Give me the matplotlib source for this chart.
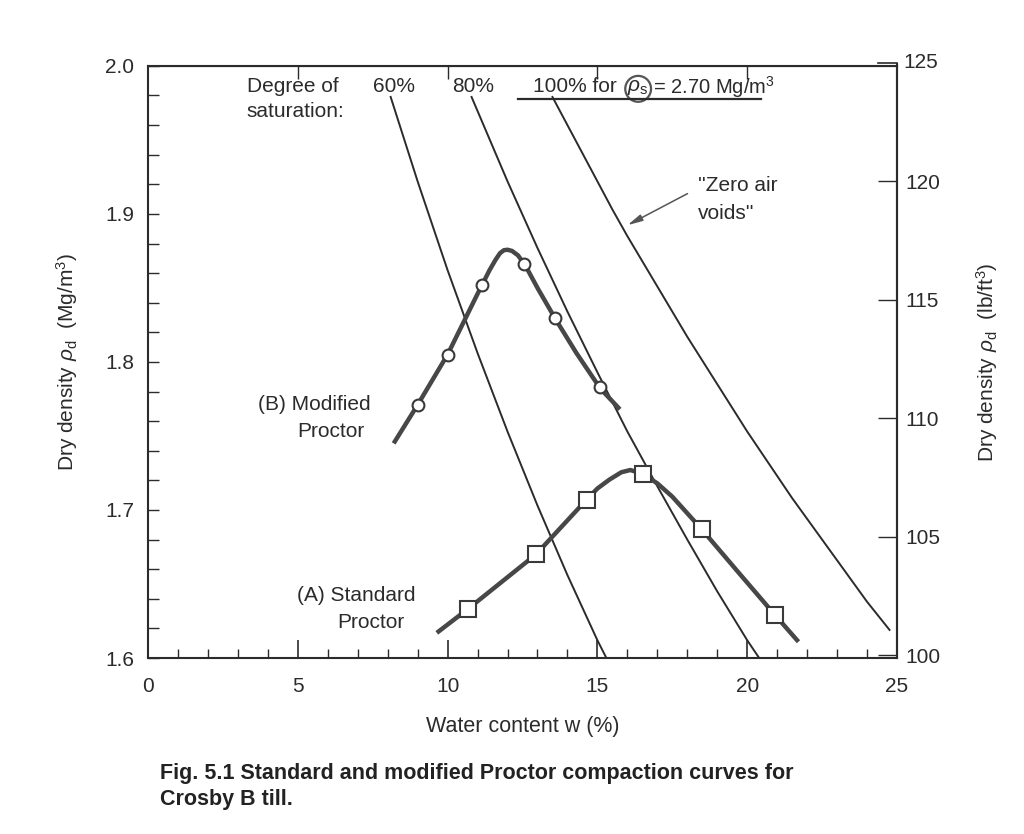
import matplotlib.pyplot as plt
from matplotlib.patches import Ellipse

plt.rcParams['font.family'] = ['Liberation Sans', 'DejaVu Sans']
plt.rcParams['mathtext.fontset'] = 'custom'
plt.rcParams['mathtext.rm'] = 'Liberation Sans'
plt.rcParams['mathtext.it'] = 'Liberation Sans:italic'

# Modified Proctor (B) - test points
w_mod = [9.0, 10.0, 11.15, 12.55, 13.6, 15.1]
rho_mod = [1.771, 1.805, 1.852, 1.866, 1.830, 1.783]
# Modified Proctor - hand-drawn curve
w_mod_curve = [8.2, 9.0, 10.0, 11.0, 11.4, 11.6, 11.75, 11.88, 12.0, 12.15, 12.35, 12.6,
               13.0, 13.6, 14.3, 15.1, 15.75]
rho_mod_curve = [1.745, 1.771, 1.805, 1.846, 1.862, 1.869, 1.8735, 1.8755, 1.8758, 1.875, 1.872, 1.865,
                 1.850, 1.829, 1.806, 1.782, 1.768]

# Standard Proctor (A) - test points
w_std = [10.67, 12.95, 14.64, 16.53, 18.48, 20.93]
rho_std = [1.633, 1.670, 1.707, 1.724, 1.687, 1.629]
w_std_curve = [9.64, 10.67, 12.95, 14.64, 15.0, 15.4, 15.8, 16.1, 16.5, 17.0, 17.5, 18.48, 19.7, 20.93, 21.71]
rho_std_curve = [1.617, 1.633, 1.670, 1.707, 1.7145, 1.7205, 1.7255, 1.727, 1.7245, 1.718, 1.709, 1.687,
                 1.658, 1.629, 1.611]

# degree of saturation lines (rho_s = 2.70 Mg/m3)
w_s60 = [8.1, 9.0, 10.0, 11.0, 12.0, 13.0, 14.0, 15.0, 15.3]
rho_s60 = [1.979, 1.922, 1.862, 1.806, 1.753, 1.703, 1.656, 1.612, 1.600]
w_s80 = [10.8, 12.0, 13.0, 14.0, 15.0, 16.0, 17.0, 18.0, 19.0, 20.0, 20.4]
rho_s80 = [1.979, 1.922, 1.877, 1.834, 1.793, 1.753, 1.716, 1.680, 1.645, 1.612, 1.600]
w_s100 = [13.5, 14.0, 14.5, 15.0, 15.5, 16.0, 16.5, 17.0, 17.5, 18.0, 18.5, 19.0, 19.5, 20.0,
          20.5, 21.0, 21.5, 22.0, 22.5, 23.0, 23.5, 24.0, 24.75]
rho_s100 = [1.979, 1.960, 1.941, 1.922, 1.903, 1.885, 1.868, 1.851, 1.834, 1.817, 1.801, 1.785,
            1.769, 1.753, 1.738, 1.723, 1.708, 1.694, 1.680, 1.666, 1.652, 1.638, 1.619]

x_ticks = [0, 5, 10, 15, 20, 25]
y_ticks = [1.6, 1.7, 1.8, 1.9, 2.0]
lb_ticks = [100, 105, 110, 115, 120, 125]
lb_per_mg = 62.43

ink = '#2b2b2b'

fig = plt.figure(figsize=(10.24, 8.34), dpi=100)
ax = fig.add_axes([0.1445, 0.211, 0.7315, 0.710])

ax.plot(w_s60, rho_s60, color=ink, lw=1.4)
ax.plot(w_s80, rho_s80, color=ink, lw=1.4)
ax.plot(w_s100, rho_s100, color=ink, lw=1.4)

ax.plot(w_mod_curve, rho_mod_curve, color='#474747', lw=3.2, solid_capstyle='butt', solid_joinstyle='round')
ax.plot(w_mod, rho_mod, 'o', ms=8.5, mfc='white', mec='#3a3a3a', mew=1.5)
ax.plot(w_std_curve, rho_std_curve, color='#474747', lw=3.2, solid_capstyle='butt', solid_joinstyle='round')
ax.plot(w_std, rho_std, 's', ms=12, mfc='white', mec='#3a3a3a', mew=1.5)

ax.set_xlim(0, 25)
ax.set_ylim(1.6, 2.0)
ax.set_xticks(x_ticks)
ax.set_xticks(range(0, 26), minor=True)
ax.set_yticks(y_ticks)
ax.set_yticks([1.6 + 0.02 * i for i in range(21)], minor=True)
ax.set_yticklabels(['%.1f' % v for v in y_ticks])
ax.tick_params(axis='both', which='both', direction='in', colors=ink, labelsize=15)
ax.tick_params(axis='x', which='major', length=13, width=1.2, pad=14, top=False)
ax.tick_params(axis='x', which='minor', length=6.5, width=1.0, top=False)
ax.tick_params(axis='y', which='both', length=8, width=1.0, pad=10, right=False)
for s in ax.spines.values():
    s.set_color(ink)
    s.set_linewidth(1.5)

# top ticks: majors only
top = ax.secondary_xaxis('top')
top.set_xticks([5, 10, 15, 20])
top.tick_params(direction='in', length=9, width=1.0, labeltop=False, colors=ink)

# right axis in lb/ft3; the 125 tick sits just above the frame
right = ax.secondary_yaxis('right', functions=(lambda r: r * lb_per_mg, lambda p: p / lb_per_mg))
right.set_yticks(lb_ticks[:-1])
right.tick_params(direction='in', length=14, width=1.0, labelsize=15, pad=6, colors=ink)
right.spines['right'].set_linewidth(1.5)
right.spines['right'].set_color(ink)
right.set_ylabel(r'Dry density $\rho_\mathrm{d}$  (lb/ft$^3$)', fontsize=15, labelpad=24, color=ink)
y125 = lb_ticks[-1] / lb_per_mg
ax.plot([25, 25], [2.0, y125], color=ink, lw=1.5, clip_on=False, solid_capstyle='butt')
ax.plot([24.35, 25], [y125, y125], color=ink, lw=1.2, clip_on=False)
ax.text(25.22, y125, str(lb_ticks[-1]), fontsize=15, va='center', ha='left', color=ink)

ax.set_xlabel('Water content w (%)', fontsize=15.5, labelpad=14, color=ink)
ax.set_ylabel(r'Dry density $\rho_\mathrm{d}$  (Mg/m$^3$)', fontsize=15, labelpad=18, color=ink)

# labels inside the plot
ax.text(3.3, 1.986, 'Degree of', fontsize=15, va='center', color=ink)
ax.text(3.3, 1.969, 'saturation:', fontsize=15, va='center', color=ink)
ax.text(7.5, 1.986, '60%', fontsize=15, va='center', color=ink)
ax.text(10.15, 1.986, '80%', fontsize=15, va='center', color=ink)
ax.text(12.85, 1.986, '100% for', fontsize=15, va='center', color=ink)
ax.text(15.98, 1.9855, r'$\rho_\mathrm{s}$', fontsize=15, va='center', color=ink)
ax.add_patch(Ellipse((16.36, 1.9845), 0.86, 0.0175, fill=False, ec='#555555', lw=1.6))
ax.text(16.85, 1.986, '= 2.70 Mg/m$^3$', fontsize=14.5, va='center', color=ink)
ax.plot([12.35, 20.45], [1.9775, 1.9775], color=ink, lw=1.6)

ax.text(3.67, 1.771, '(B) Modified', fontsize=15, va='center', color=ink)
ax.text(4.97, 1.753, 'Proctor', fontsize=15, va='center', color=ink)
ax.text(4.97, 1.642, '(A) Standard', fontsize=15, va='center', color=ink)
ax.text(6.31, 1.624, 'Proctor', fontsize=15, va='center', color=ink)

ax.text(18.35, 1.919, "''Zero air", fontsize=15, va='center', color=ink)
ax.text(18.35, 1.9005, "voids''", fontsize=15, va='center', color=ink)
ax.annotate('', xy=(15.92, 1.8915), xytext=(18.09, 1.9146),
            arrowprops=dict(arrowstyle='-|>,head_length=0.9,head_width=0.2', color='#555555', lw=1.1))

fig.text(0.156, 0.072, 'Fig. 5.1 Standard and modified Proctor compaction curves for',
         fontsize=15.5, fontweight='bold', color='#222222', va='center')
fig.text(0.156, 0.041, 'Crosby B till.', fontsize=15.5, fontweight='bold', color='#222222', va='center')

fig.savefig('out.png', dpi=100)
